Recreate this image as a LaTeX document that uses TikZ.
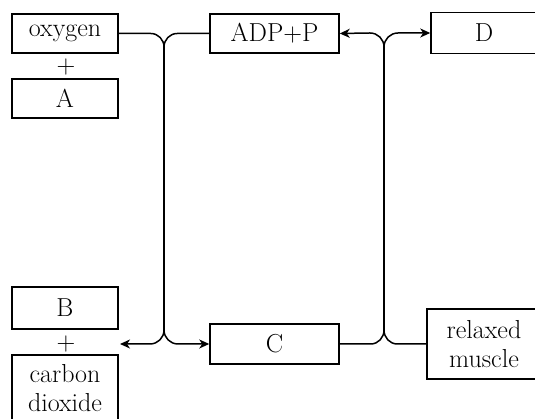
\documentclass[tikz,border=0pt]{standalone}
\usepackage{fontspec}
\usetikzlibrary{arrows.meta,positioning}
\begin{document}
\begin{tikzpicture}[x=1pt,y=1pt,line width=1.5pt,
every node/.style={font=\fontsize{26}{29}\selectfont},
box/.style={draw,minimum height=39pt,inner sep=0pt,align=center},
tip/.style={-{Stealth[length=10pt,width=9pt,inset=3pt]}}]
\clip (0,0) rectangle (535,419);
\node[box,minimum width=106pt] (oxygen) at (65,385.5) {oxygen};
\node (plusA) at (66,352) {+};
\node[box,minimum width=106pt] (A) at (65,320.5) {A};
\node[box,minimum width=129pt] (ADP) at (274.5,385.5) {ADP+P};
\node[box,minimum width=106pt,minimum height=41pt] (D) at (484,386) {D};
\node[box,minimum width=106pt,minimum height=42pt] (B) at (65,111) {B};
\node (plusB) at (66,75) {+};
\node[box,minimum width=106pt,minimum height=66pt] (CO2) at (65,31) {carbon\\dioxide};
\node[box,minimum width=129pt,minimum height=40pt] (C) at (274.5,75) {C};
\node[box,minimum width=114pt,minimum height=70pt] (relaxed) at (484,75) {relaxed\\muscle};
\coordinate (jtl) at (164,372);
\coordinate (jbl) at (164,89);
\coordinate (jtr) at (384,372);
\coordinate (jbr) at (384,89);
\coordinate (co2in) at (120,75);
% left branch
\draw (oxygen.east) -- ++(32,0) to[out=0,in=90] (jtl);
\draw (ADP.west) -- ++(-32,0) to[out=180,in=90] (jtl);
\draw (jtl) -- (jbl);
\draw[tip] (jbl) to[out=-90,in=0] ++(-14,-14) -- (co2in);
\draw[tip] (jbl) to[out=-90,in=180] ++(14,-14) -- (C.west);
% right branch
\draw[tip] (jtr) to[out=90,in=0] ++(-14,14) -- (ADP.east);
\draw[tip] (jtr) to[out=90,in=180] ++(14,14) -- (D.west);
\draw (jtr) -- (jbr);
\draw (C.east) -- ++(31,0) to[out=0,in=-90] (jbr);
\draw (relaxed.west) -- ++(-29,0) to[out=180,in=-90] (jbr);
\end{tikzpicture}
\end{document}
